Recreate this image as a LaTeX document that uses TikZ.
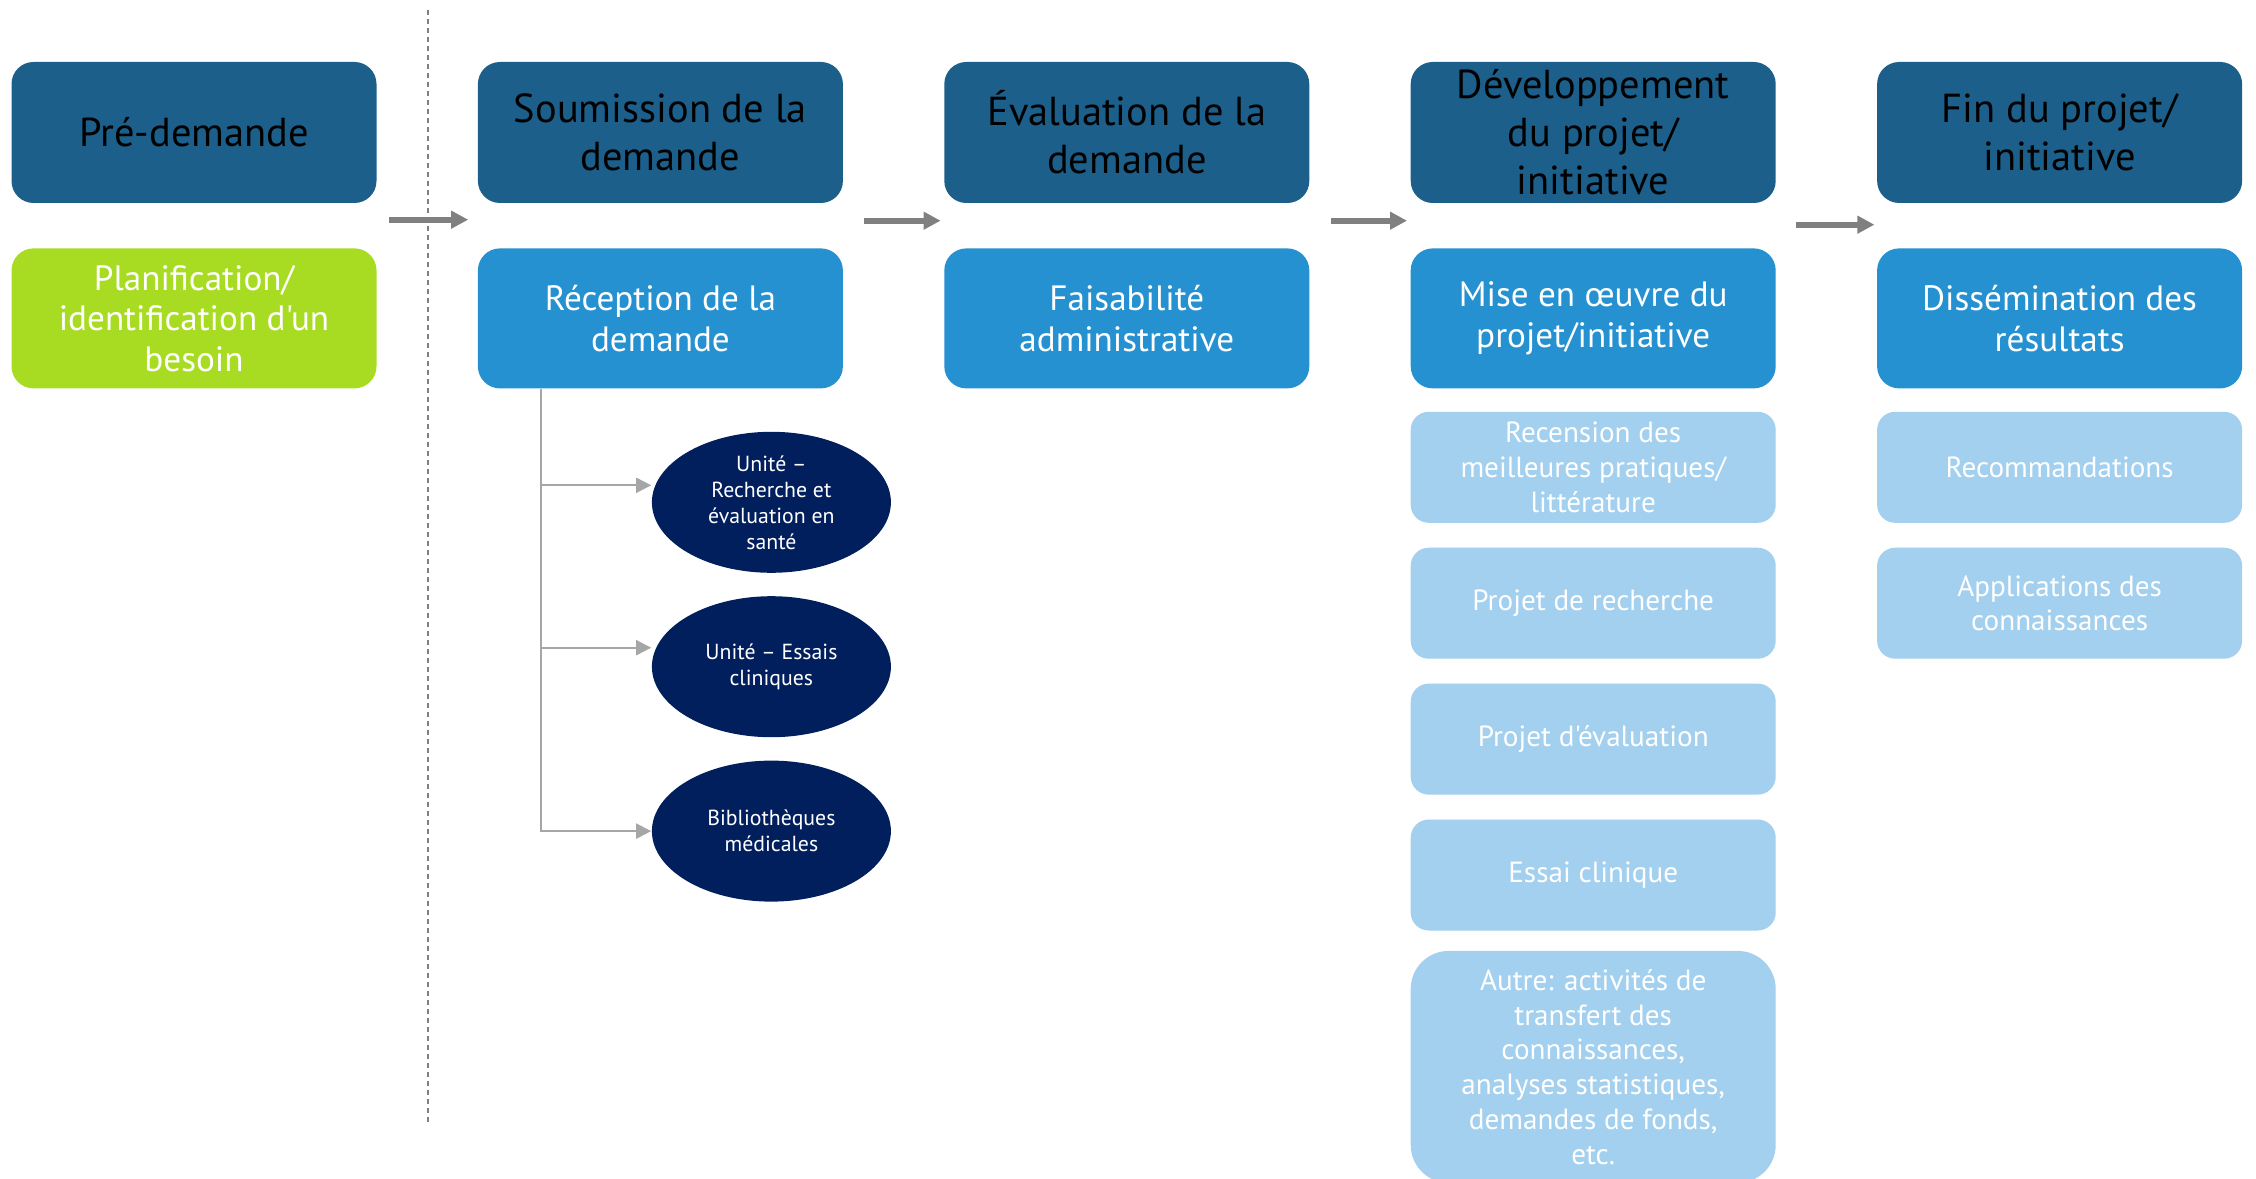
\documentclass[tikz,border=0pt]{standalone}
\usepackage{fontspec}
\setmainfont{PT Sans}[Ligatures=TeXOff]
\usetikzlibrary{shapes.geometric, arrows.meta, calc, positioning}
\definecolor{phaseblue}{RGB}{27,95,138}
\definecolor{stageblue}{RGB}{37,145,208}
\definecolor{plangreen}{RGB}{168,220,34}
\definecolor{taskblue}{RGB}{162,208,238}
\definecolor{unitnavy}{RGB}{2,31,93}
\definecolor{arrowgray}{RGB}{128,128,128}
\definecolor{branchgray}{RGB}{166,166,166}
\tikzstyle{phase} = [rectangle, rounded corners=0.22cm, minimum width=3.65cm, minimum height=1.41cm, inner sep=0pt, align=center, fill=phaseblue, text=black, font=\fontsize{11.5}{13.7}\selectfont]
\tikzstyle{stage} = [rectangle, rounded corners=0.22cm, minimum width=3.65cm, minimum height=1.40cm, inner sep=0pt, align=center, fill=stageblue, text=white, font=\fontsize{10}{11.5}\selectfont]
\tikzstyle{task} = [rectangle, rounded corners=0.18cm, minimum width=3.65cm, minimum height=1.11cm, inner sep=0pt, align=center, fill=taskblue, text=white, font=\fontsize{8.3}{9.9}\selectfont]
\tikzstyle{unit} = [ellipse, minimum width=2.39cm, minimum height=1.41cm, inner sep=0pt, align=center, fill=unitnavy, text=white, font=\fontsize{6.2}{7.4}\selectfont]
\tikzstyle{arrow} = [line width=0.06cm, arrowgray, -{Triangle[length=0.17cm,width=0.17cm]}]
\tikzstyle{branch} = [line width=0.02cm, branchgray, -{Triangle[length=0.15cm,width=0.15cm]}]
\tikzstyle{divider} = [line width=0.015cm, arrowgray, dash pattern=on 0.05cm off 0.04cm]

\begin{document}
\begin{tikzpicture}[node distance = 0.235cm, auto]
		\useasboundingbox (0,0) rectangle (22.56,-11.79);
		\node (Pre) [phase] at (1.94,-1.325) {Pré-demande};
		\node (Soum) [phase, right = 1.0cm of Pre] {Soumission de la\\demande};
		\node (Eval) [phase, right = 1.0cm of Soum] {Évaluation de la\\demande};
		\node (Dev) [phase, right = 1.0cm of Eval] {Développement\\du projet/\\initiative};
		\node (Fin) [phase, right = 1.0cm of Dev] {Fin du projet/\\initiative};
		\node (Plan) [stage, fill=plangreen, below = 0.44cm of Pre] {Planification/\\identification d'un\\besoin};
		\node (Reception) [stage, below = 0.44cm of Soum] {Réception de la\\demande};
		\node (Faisab) [stage, below = 0.44cm of Eval] {Faisabilité\\administrative};
		\node (Mise) [stage, below = 0.44cm of Dev] {Mise en œuvre du\\projet/initiative};
		\node (Dissem) [stage, below = 0.44cm of Fin] {Dissémination des\\résultats};
		\node (Recension) [task, below = 0.22cm of Mise] {Recension des\\meilleures pratiques/\\littérature};
		\node (ProjRech) [task, below = of Recension] {Projet de recherche};
		\node (ProjEval) [task, below = of ProjRech] {Projet d'évaluation};
		\node (Essai) [task, below = of ProjEval] {Essai clinique};
		\node (Autre) [task, rounded corners=0.38cm, minimum height=2.32cm, below = 0.19cm of Essai] {Autre: activités de\\transfert des\\connaissances,\\analyses statistiques,\\demandes de fonds,\\etc.};
		\node (Recomm) [task, below = 0.22cm of Dissem] {Recommandations};
		\node (Applic) [task, below = of Recomm] {Applications des\\connaissances};
		\node (UnitRech) [unit, below = 0.42cm of Reception, xshift=1.11cm] {Unité –\\Recherche et\\évaluation en\\santé};
		\node (UnitEssai) [unit, below = 0.22cm of UnitRech] {Unité – Essais\\cliniques};
		\node (Biblio) [unit, below = 0.22cm of UnitEssai] {Bibliothèques\\médicales};
		\coordinate (Trunk) at ($(Reception.south west)+(0.64,0)$);
		\coordinate (DividerTop) at (4.28,-0.10);
		\coordinate (DividerBottom) at (4.28,-11.22);
		\draw [divider] (DividerTop) -- (DividerBottom);
		\draw [arrow] ([xshift=0.12cm,yshift=-0.16cm]Pre.south east) -- ([xshift=-0.09cm,yshift=-0.16cm]Soum.south west);
		\draw [arrow] ([xshift=0.20cm,yshift=-0.17cm]Soum.south east) -- ([xshift=-0.03cm,yshift=-0.17cm]Eval.south west);
		\draw [arrow] ([xshift=0.21cm,yshift=-0.17cm]Eval.south east) -- ([xshift=-0.03cm,yshift=-0.17cm]Dev.south west);
		\draw [arrow] ([xshift=0.20cm,yshift=-0.21cm]Dev.south east) -- ([xshift=-0.02cm,yshift=-0.21cm]Fin.south west);
		\draw [branch] (Trunk) |- ([yshift=0.17cm]UnitRech.west);
		\draw [branch] (Trunk) |- ([yshift=0.19cm]UnitEssai.west);
		\draw [branch] (Trunk) |- (Biblio.west);
\end{tikzpicture}
\end{document}
